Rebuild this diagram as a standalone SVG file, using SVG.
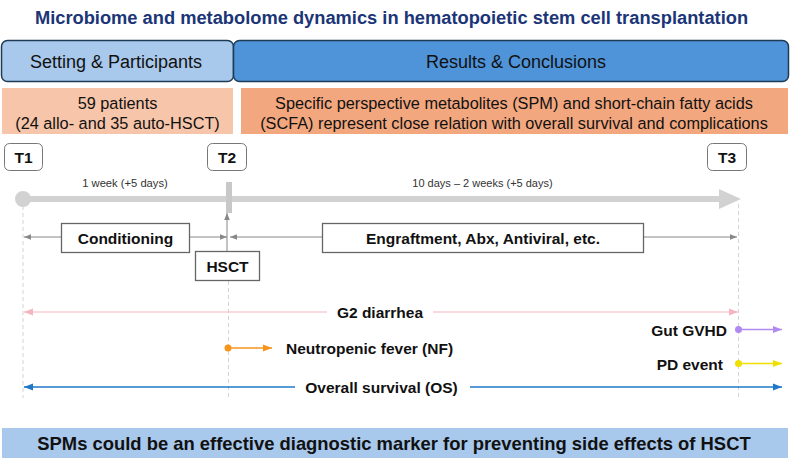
<svg xmlns="http://www.w3.org/2000/svg" width="790" height="467" viewBox="0 0 790 467">
<style>
text{font-family:"Liberation Sans",Arial,sans-serif;}
.t{font-size:16.3px;fill:#111;text-anchor:middle}
.b{font-size:15.5px;font-weight:bold;fill:#111}
.tk{fill:#fff;stroke:#777;stroke-width:1}
.bx{fill:#fff;stroke:#666;stroke-width:1.3}
.dash{stroke:#d4d4d4;stroke-width:1;stroke-dasharray:4,3;fill:none}
.gl{stroke:#888;stroke-width:1;fill:none}
</style>
<defs>
<marker id="ag" viewBox="0 0 10 10" refX="10" refY="5" markerWidth="7" markerHeight="7" orient="auto-start-reverse" markerUnits="userSpaceOnUse"><path d="M0,1 L10,5 L0,9z" fill="#888"/></marker>
<marker id="ap" viewBox="0 0 10 10" refX="10" refY="5" markerWidth="9" markerHeight="9" orient="auto-start-reverse" markerUnits="userSpaceOnUse"><path d="M0,1 L10,5 L0,9z" fill="#f5b5c0"/></marker>
<marker id="ao" viewBox="0 0 10 10" refX="10" refY="5" markerWidth="9" markerHeight="9" orient="auto-start-reverse" markerUnits="userSpaceOnUse"><path d="M0,1 L10,5 L0,9z" fill="#f7941d"/></marker>
<marker id="av" viewBox="0 0 10 10" refX="10" refY="5" markerWidth="9" markerHeight="9" orient="auto-start-reverse" markerUnits="userSpaceOnUse"><path d="M0,1 L10,5 L0,9z" fill="#b08af0"/></marker>
<marker id="ay" viewBox="0 0 10 10" refX="10" refY="5" markerWidth="9" markerHeight="9" orient="auto-start-reverse" markerUnits="userSpaceOnUse"><path d="M0,1 L10,5 L0,9z" fill="#f0e000"/></marker>
<marker id="ab" viewBox="0 0 10 10" refX="10" refY="5" markerWidth="9" markerHeight="9" orient="auto-start-reverse" markerUnits="userSpaceOnUse"><path d="M0,1 L10,5 L0,9z" fill="#1f78c8"/></marker>
</defs>
<rect width="790" height="467" fill="#fff"/>
<text id="title" x="391.5" y="24" text-anchor="middle" style="font-size:18.3px;font-weight:bold;fill:#1b3577">Microbiome and metabolome dynamics in hematopoietic stem cell transplantation</text>

<g id="hdr-setting"><rect x="1.5" y="40.5" width="232" height="41" rx="6" fill="#a8c8ec" stroke="#1d3a56" stroke-width="1.5"/><text class="t" x="116" y="68" style="font-size:18px">Setting &amp; Participants</text></g>
<g id="hdr-results"><rect x="233.5" y="40.5" width="555" height="41" rx="6" fill="#4f93d9" stroke="#1d3a56" stroke-width="1.5"/><text class="t" x="516" y="68" style="font-size:18px">Results &amp; Conclusions</text></g>

<g id="box-patients"><rect x="2" y="88" width="231" height="46" fill="#f7c5aa"/><text class="t" x="117.5" y="109">59 patients</text><text class="t" x="117.5" y="129">(24 allo- and 35 auto-HSCT)</text></g>
<g id="box-spm"><rect x="241" y="88" width="547" height="46" fill="#f2a77f"/><text class="t" x="514" y="109">Specific perspective metabolites (SPM) and short-chain fatty acids</text><text class="t" x="514" y="129">(SCFA) represent close relation with overall survival and complications</text></g>

<g id="timeline">
<line x1="23" y1="199" x2="722" y2="199" stroke="#d2d2d2" stroke-width="6"/>
<path d="M719,189 L741,199 L719,209z" fill="#d2d2d2"/>
<circle cx="23" cy="199" r="8" fill="#d2d2d2"/>
<rect x="226" y="182" width="6" height="31" fill="#c8c8c8"/>
<text x="125" y="187" text-anchor="middle" style="font-size:11.2px;fill:#333">1 week (+5 days)</text>
<text x="482.5" y="187" text-anchor="middle" style="font-size:11px;fill:#333">10 days – 2 weeks (+5 days)</text>
</g>

<g id="T1"><rect class="tk" x="4.5" y="143.5" width="38" height="27" rx="5"/><text class="b" x="23.5" y="163" text-anchor="middle">T1</text></g>
<g id="T2"><rect class="tk" x="207.5" y="143.5" width="39" height="27" rx="5"/><text class="b" x="227" y="163" text-anchor="middle">T2</text></g>
<g id="T3"><rect class="tk" x="707.5" y="143.5" width="39" height="27" rx="5"/><text class="b" x="727" y="163" text-anchor="middle">T3</text></g>

<g id="connectors">
<line class="dash" x1="23" y1="206" x2="23" y2="398"/>
<line class="dash" x1="228.5" y1="281" x2="228.5" y2="398"/>
<line class="dash" x1="738.5" y1="204" x2="738.5" y2="398"/>
<line class="gl" x1="61" y1="237" x2="24" y2="237" marker-end="url(#ag)"/>
<line class="gl" x1="189" y1="237" x2="227" y2="237" marker-end="url(#ag)"/>
<line class="gl" x1="322" y1="237" x2="230" y2="237" marker-end="url(#ag)"/>
<line class="gl" x1="643" y1="237" x2="737" y2="237" marker-end="url(#ag)"/>
<line class="gl" x1="227" y1="251" x2="227" y2="213" marker-end="url(#ag)"/>
<line x1="327" y1="312" x2="24" y2="312" stroke="#f5b5c0" stroke-width="1.2" marker-end="url(#ap)"/>
<line x1="433" y1="312" x2="738" y2="312" stroke="#f5b5c0" stroke-width="1.2" marker-end="url(#ap)"/>
<circle cx="228" cy="348" r="3.5" fill="#f7941d"/>
<line x1="228" y1="348" x2="272" y2="348" stroke="#f7941d" stroke-width="1.3" marker-end="url(#ao)"/>
<circle cx="738.5" cy="329.5" r="3.5" fill="#b08af0"/>
<line x1="738.5" y1="329.5" x2="782" y2="329.5" stroke="#b08af0" stroke-width="1.3" marker-end="url(#av)"/>
<circle cx="738.5" cy="363.5" r="3.5" fill="#f0e000"/>
<line x1="738.5" y1="363.5" x2="782" y2="363.5" stroke="#f0e000" stroke-width="1.3" marker-end="url(#ay)"/>
<line x1="295" y1="387" x2="24" y2="387" stroke="#1f78c8" stroke-width="1.3" marker-end="url(#ab)"/>
<line x1="470" y1="387" x2="782" y2="387" stroke="#1f78c8" stroke-width="1.3" marker-end="url(#ab)"/>
</g>

<g id="conditioning"><rect class="bx" x="61.5" y="223.5" width="128" height="29"/><text class="b" x="125.5" y="243.5" text-anchor="middle">Conditioning</text></g>
<g id="engraftment"><rect class="bx" x="322.5" y="223.5" width="321" height="29"/><text class="b" x="483" y="243.5" text-anchor="middle">Engraftment, Abx, Antiviral, etc.</text></g>
<g id="hsct"><rect class="bx" x="195.5" y="251.5" width="64" height="29"/><text class="b" x="227.5" y="271.5" text-anchor="middle">HSCT</text></g>

<g id="lbl-g2"><text class="b" x="380" y="317.5" text-anchor="middle">G2 diarrhea</text></g>
<g id="lbl-gvhd"><text class="b" x="727" y="335.5" text-anchor="end">Gut GVHD</text></g>
<g id="lbl-nf"><text class="b" x="286" y="353.5">Neutropenic fever (NF)</text></g>
<g id="lbl-pd"><text class="b" x="723" y="369.5" text-anchor="end">PD event</text></g>
<g id="lbl-os"><text class="b" x="381.5" y="392.5" text-anchor="middle">Overall survival (OS)</text></g>

<g id="banner"><rect x="2" y="428" width="786" height="30" fill="#a8c8ec"/><text x="394" y="449.5" text-anchor="middle" style="font-size:18.4px;font-weight:bold;fill:#111">SPMs could be an effective diagnostic marker for preventing side effects of HSCT</text></g>
</svg>
